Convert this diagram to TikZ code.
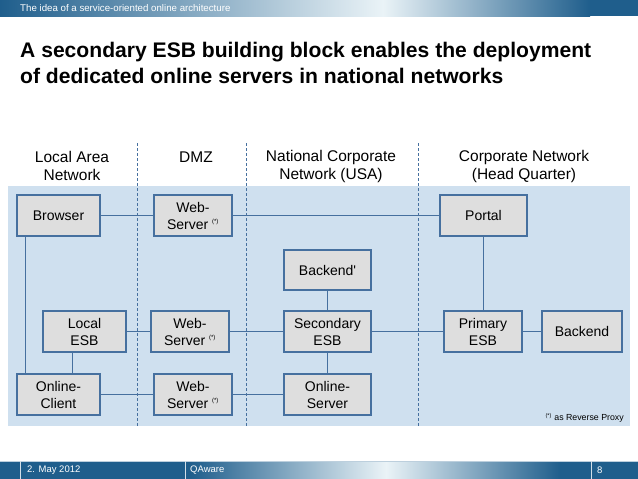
\documentclass[tikz,border=0pt]{standalone}
\usepackage{fontspec}
\setmainfont{Liberation Sans}[Ligatures=TeXOff]
\definecolor{hdark}{HTML}{1F5E8C}
\definecolor{hlight}{HTML}{EAF3F7}
\definecolor{bgblue}{HTML}{CFE0EF}
\definecolor{nodefill}{HTML}{DEDEDE}
\definecolor{edgeblue}{HTML}{46709F}
\tikzset{
  box/.style={draw=edgeblue, line width=1.5pt, fill=nodefill, minimum height=41pt, inner sep=0pt, align=center, font=\fontsize{14}{17}\selectfont},
  conn/.style={draw=edgeblue, line width=1pt},
  sep/.style={draw=edgeblue, line width=0.8pt, dash pattern=on 3pt off 2pt},
  colhead/.style={align=center, font=\fontsize{15.5}{18}\selectfont, inner sep=0pt},
}
\newcommand{\rp}{\textsuperscript{\fontsize{6}{6}\selectfont(*)}}
\begin{document}
\begin{tikzpicture}[x=1pt,y=-1pt]
\useasboundingbox (0,0) rectangle (638,479);
\fill[white] (0,0) rectangle (638,479);
% header bar
\shade[left color=hdark, right color=hlight] (0,0) rectangle (383,16);
\shade[left color=hlight, right color=hdark] (383,0) rectangle (590,16);
\fill[hdark] (589.5,0) rectangle (638,16);
\node[anchor=west, text=white, font=\fontsize{9.7}{10}\selectfont, inner sep=0pt] (hdr) at (20,8) {The idea of a service-oriented online architecture};
% title
\node[anchor=north west, align=left, inner sep=0pt, font=\fontsize{21.1}{26}\selectfont\bfseries] (title) at (20,42) {A secondary ESB building block enables the deployment\\of dedicated online servers in national networks};
% background area
\fill[bgblue] (8,186) rectangle (630,426);
% column headers
\node[colhead] (h1) at (72,166) {Local Area\\Network};
\node[colhead] (h2) at (196,157) {DMZ};
\node[colhead] (h3) at (331,166) {National Corporate\\Network (USA)};
\node[colhead] (h4) at (524,166) {Corporate Network\\(Head Quarter)};
% separators
\coordinate (s1a) at (137,143); \coordinate (s1b) at (137,427);
\coordinate (s2a) at (246,143); \coordinate (s2b) at (246,427);
\coordinate (s3a) at (418,143); \coordinate (s3b) at (418,427);
\draw[sep] (s1a) -- (s1b);
\draw[sep] (s2a) -- (s2b);
\draw[sep] (s3a) -- (s3b);
% nodes
\node[box, minimum width=83pt] (browser) at (58.5,215.5) {Browser};
\node[box, minimum width=78pt] (ws1) at (193,215.5) {Web-\\Server \rp};
\node[box, minimum width=87pt] (portal) at (483.5,215.5) {Portal};
\node[box, minimum width=87pt, minimum height=40pt] (backendp) at (327.5,270) {Backend'};
\node[box, minimum width=83pt] (lesb) at (84.5,331.5) {Local\\ESB};
\node[box, minimum width=78pt] (ws2) at (190,331.5) {Web-\\Server \rp};
\node[box, minimum width=87pt] (sesb) at (327.5,331.5) {Secondary\\ESB};
\node[box, minimum width=78pt] (pesb) at (483,331.5) {Primary\\ESB};
\node[box, minimum width=80pt] (backend) at (582,331.5) {Backend};
\node[box, minimum width=83pt] (oclient) at (58.5,394.5) {Online-\\Client};
\node[box, minimum width=78pt] (ws3) at (193,394.5) {Web-\\Server \rp};
\node[box, minimum width=87pt] (oserver) at (327.5,394.5) {Online-\\Server};
% connectors
\draw[conn] (browser.east) -- (ws1.west);
\draw[conn] (ws1.east) -- (portal.west);
\draw[conn] ([xshift=9pt]browser.south west) -- ([xshift=9pt]oclient.north west);
\draw[conn] ([xshift=-12pt]lesb.south) -- ([xshift=-12pt]lesb.south |- oclient.north);
\draw[conn] (lesb.east) -- (ws2.west);
\draw[conn] (ws2.east) -- (sesb.west);
\draw[conn] (sesb.east) -- (pesb.west);
\draw[conn] (pesb.east) -- (backend.west);
\draw[conn] (portal.south) -- (portal.south |- pesb.north);
\draw[conn] (backendp.south) -- (sesb.north);
\draw[conn] (sesb.south) -- (oserver.north);
\draw[conn] (oclient.east) -- (ws3.west);
\draw[conn] (ws3.east) -- (oserver.west);
% footnote
\node[anchor=east, inner sep=0pt, font=\fontsize{8.8}{10}\selectfont] (fn) at (624,418) {\textsuperscript{\fontsize{5.5}{6}\selectfont(*)} as Reverse Proxy};
% footer
\fill[hdark] (0,461) rectangle (190.5,479);
\shade[left color=hdark, right color=hlight] (190,461) rectangle (386,479);
\shade[left color=hlight, right color=hdark] (386,461) rectangle (560,479);
\fill[hdark] (559.5,461) rectangle (638,479);
\draw[white!70!hdark, line width=0.8pt] (0,461) -- (638,461);
\coordinate (d1a) at (20,461); \coordinate (d1b) at (20,479);
\coordinate (d2a) at (185,461); \coordinate (d2b) at (185,479);
\coordinate (d3a) at (591,461); \coordinate (d3b) at (591,479);
\draw[white!80!hdark, line width=0.8pt] (d1a) -- (d1b);
\draw[white!80!hdark, line width=0.8pt] (d2a) -- (d2b);
\draw[white!80!hdark, line width=0.8pt] (d3a) -- (d3b);
\node[anchor=west, text=white, inner sep=0pt, font=\fontsize{9.5}{10}\selectfont] (date) at (27,470) {2. May 2012};
\node[anchor=west, text=white, inner sep=0pt, font=\fontsize{9.5}{10}\selectfont] (qa) at (190,470) {QAware};
\node[anchor=west, text=white, inner sep=0pt, font=\fontsize{9.5}{10}\selectfont] (pg) at (597,470) {8};
\end{tikzpicture}
\end{document}
